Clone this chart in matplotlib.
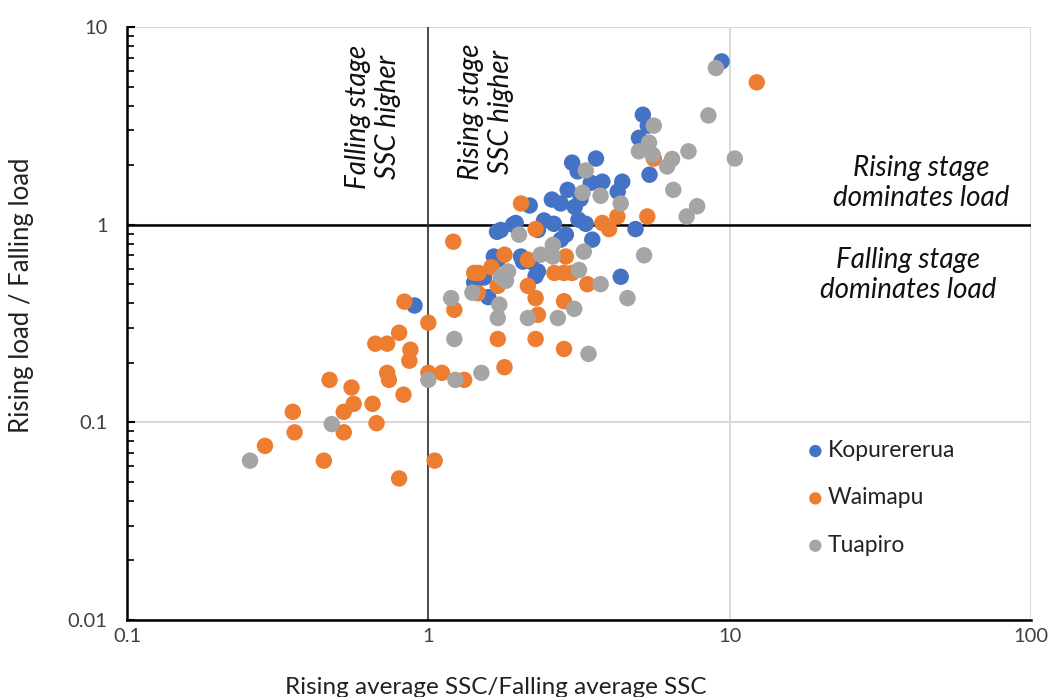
import matplotlib
matplotlib.use("Agg")
import matplotlib.pyplot as plt
from matplotlib.ticker import LogLocator, FixedLocator, NullFormatter

plt.rcParams["font.family"] = ["Lato", "DejaVu Sans"]

# Rising average SSC / falling average SSC (x) and rising load / falling load (y)
kopurererua_x = [9.4, 5.15, 5.35, 5.0, 5.42, 4.87, 3.6, 3.0, 3.13, 3.46, 3.78, 4.4, 4.25,
                 2.9, 3.2, 2.57, 2.75, 2.17, 3.06, 3.15, 3.33, 1.74, 1.91, 1.69, 1.95,
                 2.42, 2.61, 2.31, 2.86, 2.75, 3.5, 1.65, 2.03, 1.70, 2.06, 2.31, 2.27,
                 1.53, 1.42, 1.58, 4.35, 0.9, 2.19]
kopurererua_y = [6.7, 3.6, 3.17, 2.75, 1.79, 0.95, 2.16, 2.06, 1.86, 1.63, 1.65, 1.65, 1.47,
                 1.50, 1.35, 1.34, 1.28, 1.25, 1.23, 1.06, 1.01, 0.94, 1.0, 0.92, 1.02,
                 1.05, 1.01, 0.94, 0.89, 0.84, 0.84, 0.69, 0.69, 0.665, 0.65, 0.58, 0.55,
                 0.54, 0.51, 0.43, 0.545, 0.39, 0.65]

waimapu_x = [0.287, 0.355, 0.36, 0.47, 0.45, 0.556, 0.565, 0.524, 0.524, 0.653, 0.673,
             0.667, 0.73, 0.73, 0.74, 0.80, 0.833, 0.872, 0.865, 0.827, 0.80, 1.0, 1.0,
             1.11, 1.05, 1.315, 1.21, 1.22, 2.03, 2.27, 3.78, 3.98, 4.24, 5.33, 5.6,
             12.3, 1.79, 2.14, 1.62, 1.42, 1.47, 2.86, 2.62, 2.82, 3.0, 3.37, 1.70,
             2.14, 1.46, 2.27, 2.82, 2.31, 1.70, 2.27, 2.82, 1.79]
waimapu_y = [0.076, 0.113, 0.089, 0.164, 0.064, 0.150, 0.124, 0.113, 0.089, 0.124, 0.099,
             0.25, 0.25, 0.178, 0.164, 0.284, 0.408, 0.233, 0.205, 0.138, 0.052, 0.319,
             0.178, 0.178, 0.064, 0.164, 0.82, 0.371, 1.28, 0.95, 1.02, 0.95, 1.10, 1.10,
             2.16, 5.25, 0.705, 0.665, 0.61, 0.57, 0.57, 0.69, 0.57, 0.57, 0.57, 0.50,
             0.49, 0.49, 0.45, 0.425, 0.41, 0.35, 0.264, 0.264, 0.235, 0.19]

tuapiro_x = [0.256, 0.478, 1.0, 1.23, 1.50, 1.19, 1.22, 1.40, 1.72, 1.70, 2.14, 2.69, 3.05,
             3.40, 4.58, 3.73, 3.16, 1.84, 1.74, 1.81, 2.36, 2.59, 2.59, 3.28, 2.0, 5.2,
             4.35, 3.25, 3.73, 3.33, 5.6, 5.4, 5.0, 5.55, 6.2, 6.44, 7.3, 6.5, 7.8, 7.2,
             8.5, 9.0, 10.4]
tuapiro_y = [0.064, 0.098, 0.164, 0.164, 0.178, 0.425, 0.264, 0.453, 0.394, 0.337, 0.337,
             0.337, 0.375, 0.222, 0.425, 0.50, 0.59, 0.58, 0.545, 0.52, 0.705, 0.69, 0.79,
             0.73, 0.89, 0.70, 1.28, 1.45, 1.40, 1.88, 3.17, 2.6, 2.35, 2.26, 1.97, 2.15,
             2.35, 1.50, 1.24, 1.10, 3.57, 6.2, 2.16]

series = [
    ("Kopurererua", kopurererua_x, kopurererua_y, "#4472C4"),
    ("Waimapu", waimapu_x, waimapu_y, "#ED7D31"),
    ("Tuapiro", tuapiro_x, tuapiro_y, "#A5A5A5"),
]

x_ticks = [0.1, 1, 10, 100]
x_tick_labels = ["0.1", "1", "10", "100"]
y_ticks = [0.01, 0.1, 1, 10]
y_tick_labels = ["0.01", "0.1", "1", "10"]

W, H = 1049, 697
fig = plt.figure(figsize=(W / 100, H / 100), dpi=100)
ax = fig.add_axes([127 / W, 1 - 620 / H, (1031 - 127) / W, (620 - 27) / H])

for name, xs, ys, color in series:
    ax.scatter(xs, ys, s=140, color=color, edgecolors="none", label=name, zorder=3)

ax.set_xscale("log")
ax.set_yscale("log")
ax.set_xlim(0.1, 100)
ax.set_ylim(0.01, 10)

ax.xaxis.set_major_locator(FixedLocator(x_ticks))
ax.set_xticklabels(x_tick_labels)
ax.xaxis.set_minor_locator(FixedLocator([]))
ax.yaxis.set_major_locator(FixedLocator(y_ticks))
ax.set_yticklabels(y_tick_labels)
ax.yaxis.set_minor_locator(LogLocator(base=10, subs=range(2, 10)))
ax.yaxis.set_minor_formatter(NullFormatter())

ax.tick_params(axis="x", which="both", length=0, pad=6, labelsize=14.5, labelcolor="#404040")
ax.tick_params(axis="y", which="major", direction="in", length=6, width=1.5,
               pad=14, labelsize=14.5, labelcolor="#404040")
ax.tick_params(axis="y", which="minor", direction="in", length=5, width=1.2)

ax.grid(which="major", color="#D9D9D9", linewidth=1.5, zorder=0)
ax.set_axisbelow(True)
for side in ("top", "right"):
    ax.spines[side].set_visible(False)
for side in ("left", "bottom"):
    ax.spines[side].set_linewidth(1.8)
    ax.spines[side].set_color("black")

ax.axhline(1, color="black", linewidth=1.8, zorder=2)
ax.axvline(1, color="#333333", linewidth=1.2, zorder=2)

fig.text(496 / W, 1 - 687 / H, "Rising average SSC/Falling average SSC",
         ha="center", va="center", fontsize=17.5, color="#222222")
fig.text(22 / W, 1 - 295 / H, "Rising load / Falling load", rotation=90,
         ha="center", va="center", fontsize=18.5, color="#222222")

note_kw = dict(fontsize=20, style="italic", color="#111111", linespacing=1.2)
fig.text(373 / W, 1 - 117 / H, "Falling stage\nSSC higher", rotation=90,
         ha="center", va="center", **note_kw)
fig.text(486 / W, 1 - 112 / H, "Rising stage\nSSC higher", rotation=90,
         ha="center", va="center", **note_kw)
fig.text(921 / W, 1 - 183 / H, "Rising stage\ndominates load",
         ha="center", va="center", **note_kw)
fig.text(908 / W, 1 - 275 / H, "Falling stage\ndominates load",
         ha="center", va="center", **note_kw)

ax.legend(loc="upper left", bbox_to_anchor=(789 / W, 1 - 424 / H),
          bbox_transform=fig.transFigure, frameon=False, fontsize=16.5,
          markerscale=0.75, handletextpad=0.1, labelspacing=1.15,
          handlelength=0.9, borderpad=0.2, labelcolor="#222222")

fig.savefig("out.png", dpi=100)
